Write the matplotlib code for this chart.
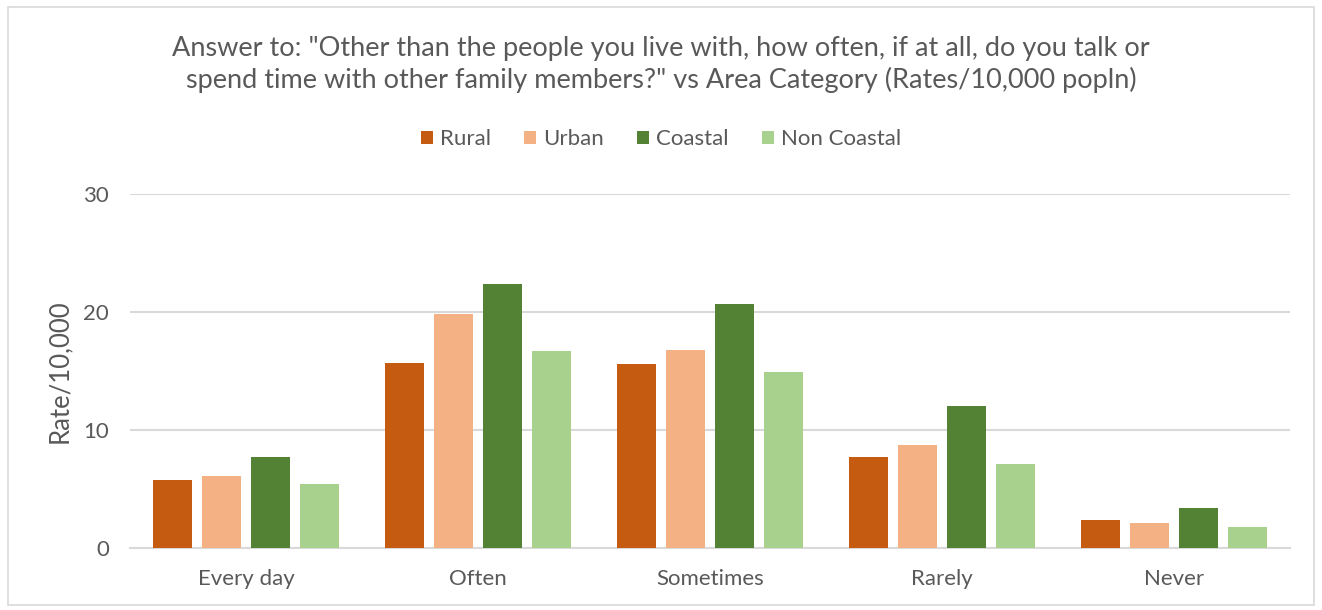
import matplotlib.pyplot as plt
import numpy as np
from matplotlib.patches import Rectangle

plt.rcParams['font.family'] = ['Lato', 'DejaVu Sans']

# rates per 10,000 population
answers = ['Every day', 'Often', 'Sometimes', 'Rarely', 'Never']
series_names = ['Rural', 'Urban', 'Coastal', 'Non Coastal']
rural = [5.8, 15.7, 15.6, 7.7, 2.4]
urban = [6.1, 19.8, 16.8, 8.7, 2.1]
coastal = [7.7, 22.4, 20.7, 12.0, 3.4]
non_coastal = [5.4, 16.7, 14.9, 7.1, 1.8]
yticks = [0, 10, 20, 30]

colors = ['#C55A11', '#F4B183', '#548235', '#A9D18E']
text_col = '#595959'
grid_col = '#D9D9D9'

fig = plt.figure(figsize=(13.22, 6.10), dpi=100)
ax = fig.add_axes([0.0983, 0.1016, 0.8775, 0.5804])

# outer chart border
fig.patches.append(Rectangle((0.006, 0.008), 0.988, 0.98, transform=fig.transFigure,
                             fill=False, edgecolor='#D9D9D9', linewidth=1.2))

x = np.arange(len(answers))
slot = 0.21
bar_w = 0.168
for i, (name, vals) in enumerate(zip(series_names, [rural, urban, coastal, non_coastal])):
    ax.bar(x + (i - 1.5) * slot, vals, bar_w, color=colors[i], label=name, zorder=3)

ax.set_xlim(-0.5, len(answers) - 0.5)
ax.set_ylim(0, 30)
ax.set_yticks(yticks)
ax.set_xticks(x)
ax.set_xticklabels(answers)
ax.tick_params(axis='both', length=0, colors=text_col, labelsize=16)
ax.tick_params(axis='x', pad=15)
ax.tick_params(axis='y', pad=15)
ax.grid(axis='y', color=grid_col, linewidth=1.5, zorder=0)
for s in ['top', 'right', 'left']:
    ax.spines[s].set_visible(False)
ax.spines['bottom'].set_color(grid_col)
ax.spines['bottom'].set_linewidth(1.5)

ax.set_ylabel('Rate/10,000', color=text_col, fontsize=18.5, va='center')
ax.yaxis.set_label_coords(-0.061, 0.5)

fig.text(0.5, 0.894, 'Answer to: "Other than the people you live with, how often, if at all, do you talk or\n'
         'spend time with other family members?" vs Area Category (Rates/10,000 popln)',
         ha='center', va='center', fontsize=19.5, color=text_col, linespacing=1.25)

fig.legend(loc='center', bbox_to_anchor=(0.5, 0.772), ncol=4, frameon=False,
           fontsize=16, handlelength=0.55, handleheight=0.55, handletextpad=0.3,
           columnspacing=1.5, labelcolor=text_col)

fig.savefig('out.png', dpi=100)
